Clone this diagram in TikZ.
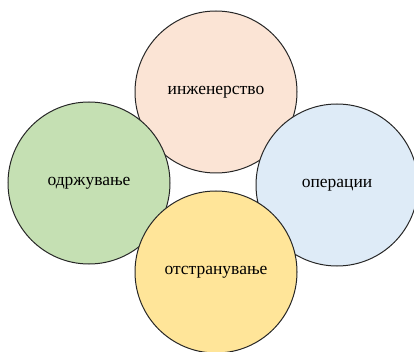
\documentclass[tikz,border=0pt]{standalone}
\usepackage{fontspec}
\setmainfont{Liberation Serif}
\definecolor{cpink}{HTML}{FBE4D5}
\definecolor{cgreen}{HTML}{C5E0B3}
\definecolor{cblue}{HTML}{DEEBF7}
\definecolor{cyellow}{HTML}{FFE599}
\begin{document}
\begin{tikzpicture}[x=1pt,y=-1pt,
  bubble/.style={circle,draw=black!85,line width=1pt,minimum size=162pt,inner sep=0pt,
    font=\fontsize{17.5}{19}\selectfont}]
\useasboundingbox (0,0) rectangle (414,352);
\node[bubble,fill=cpink] (eng) at (216,92) {инженерство};
\node[bubble,fill=cgreen] (maint) at (89,183) {одржување};
\node[bubble,fill=cblue] (ops) at (337,185) {операции};
\node[bubble,fill=cyellow] (rem) at (216,272) {отстранување};
\end{tikzpicture}
\end{document}
